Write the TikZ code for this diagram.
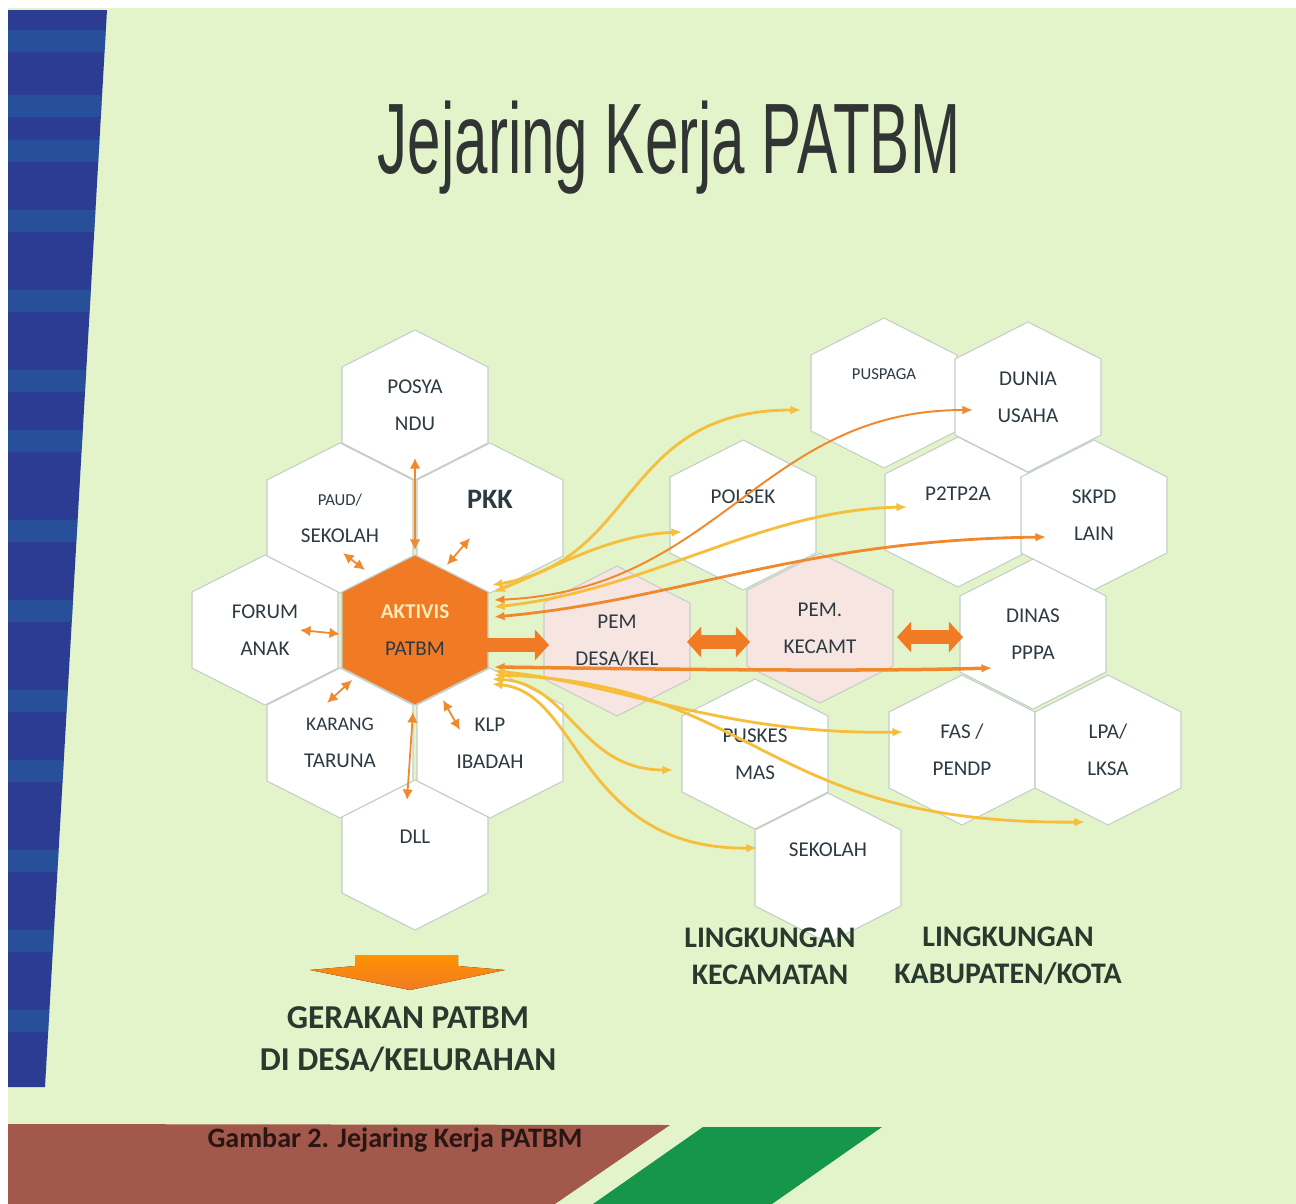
\documentclass[tikz,border=0pt]{standalone}
\usepackage{fontspec}
\setmainfont{Carlito}
\newfontfamily\titlefont[FakeStretch=0.6]{Liberation Sans}
\usetikzlibrary{arrows.meta,calc}
\definecolor{bggreen}{RGB}{227,244,203}
\definecolor{barblue}{RGB}{44,60,146}
\definecolor{barteal}{RGB}{36,108,168}
\definecolor{bandbrown}{RGB}{162,88,74}
\definecolor{bandgreen}{RGB}{22,150,74}
\definecolor{hexline}{RGB}{196,206,200}
\definecolor{hexpink}{RGB}{247,229,226}
\definecolor{aktorange}{RGB}{241,122,36}
\definecolor{aktext}{RGB}{255,236,186}
\definecolor{linkyellow}{RGB}{247,190,60}
\definecolor{linkorange}{RGB}{240,136,44}
\definecolor{labeltext}{RGB}{45,58,66}
\definecolor{bigtext}{RGB}{40,58,46}
\definecolor{titlegray}{RGB}{48,52,50}

\begin{document}
\begin{tikzpicture}[x=0.02cm,y=-0.02cm,
    hexlabel/.style={align=center, text=labeltext, inner sep=0pt,
      font=\fontsize{12}{21}\selectfont},
    spoke/.style={draw=linkorange, line width=1pt,
      {Latex[length=6pt,width=6pt]}-{Latex[length=6pt,width=6pt]}},
    link/.style={draw=linkyellow, line width=1.6pt,
      {Latex[length=6pt,width=5pt]}-{Latex[length=6pt,width=5pt]}},
    fatarrow/.style={draw=aktorange, line width=7.5pt,
      -{Triangle[length=8pt,width=17pt]}},
    bottomtext/.style={align=center, text=bigtext,
      font=\bfseries\fontsize{17}{21}\selectfont}]
  \useasboundingbox (0,0) rectangle (1296,1204);
  \fill[white] (0,0) rectangle (1296,1204);
  \fill[bggreen] (8,8) rectangle (1296,1204);
  \fill[barblue] (8,10) -- (107,10) -- (45,1087) -- (8,1087) -- cycle;
  \begin{scope}
    \clip (8,10) -- (107,10) -- (45,1087) -- (8,1087) -- cycle;
    \foreach \s in {30,95,140,210,290,370,430,520,600,690,760,850,930,1010}
      \fill[barteal, opacity=0.4] (0,\s) rectangle (120,\s+22);
  \end{scope}
  \fill[bandbrown] (8,1124) -- (670,1125) -- (555,1204) -- (8,1204) -- cycle;
  \fill[bandgreen] (703,1127) -- (882,1127) -- (772,1204) -- (593,1204) -- cycle;

  \node[font=\titlefont\fontsize{57}{60}\selectfont, text=titlegray, anchor=base]
    (title) at (669,173) {Jejaring Kerja PATBM};

  \foreach \n/\x/\y/\c/\t in {
      posya/415/405/white/{POSYA\\NDU},
      paud/340/518/white/{\fontsize{9.5}{21}\selectfont PAUD/\\SEKOLAH},
      pkk/490/518/white/{\fontsize{16}{24}\selectfont\bfseries PKK\\\mbox{}},
      forum/265/630/white/{FORUM\\ANAK},
      akt/415/630/aktorange/{\bfseries\color{aktext}AKTIVIS\\PATBM},
      karang/340/743/white/{\fontsize{11}{21}\selectfont KARANG\\TARUNA},
      klp/490/743/white/{KLP\\IBADAH},
      dll/415/855/white/{DLL\\\mbox{}},
      pus/884/393/white/{\fontsize{9.5}{21}\selectfont PUSPAGA\\\mbox{}},
      dunia/1028/397/white/{DUNIA\\USAHA},
      polsek/743/515/white/{POLSEK\\\mbox{}},
      p2tp/958/512/white/{P2TP2A\\\mbox{}},
      skpd/1094/515/white/{SKPD\\LAIN},
      desa/617/641/hexpink/{PEM\\DESA/KEL},
      kec/820/628/hexpink/{PEM.\\KECAMT},
      dinas/1033/634/white/{DINAS\\PPPA},
      puskes/755/754/white/{PUSKES\\MAS},
      fas/962/750/white/{FAS /\\PENDP},
      lpa/1108/750/white/{LPA/\\LKSA},
      sekolah/828/868/white/{SEKOLAH\\\mbox{}}}
  {
    \filldraw[fill=\c, draw=hexline, line width=0.6pt] (\x,\y) +(0,-75) -- +(73,-38)
      -- +(73,38) -- +(0,75) -- +(-73,38) -- +(-73,-38) -- cycle;
    \node[hexlabel] (\n) at (\x,\y) {\t};
  }

  \draw[spoke] ($(akt)+(0,-80)$) -- ($(posya)+(0,53)$);
  \draw[spoke] ($(akt)+(32,-65)$) -- ($(pkk)+(-20,20)$);
  \draw[spoke] ($(akt)+(-50,-60)$) -- ($(paud)+(3,35)$);
  \draw[spoke] ($(akt)+(-75,4)$) -- ($(forum)+(35,0)$);
  \draw[spoke] ($(akt)+(-63,50)$) -- ($(karang)+(-13,-40)$);
  \draw[spoke] ($(akt)+(28,70)$) -- ($(klp)+(-30,-13)$);
  \draw[spoke] ($(akt)+(-2,82)$) -- ($(dll)+(-8,-55)$);

  \draw[link] ($(akt)+(77,-45)$) .. controls +(148,-25) and +(-181,0) .. ($(pus)+(-83,17)$);
  \draw[link] ($(akt)+(79,-38)$) .. controls +(66,-27) and +(-72,3) .. ($(polsek)+(-61,17)$);
  \draw[link, draw=linkorange, line width=1.1pt] ($(akt)+(79,-30)$) .. controls +(226,-10) and +(-213,0) .. ($(dunia)+(-55,13)$);
  \draw[link] ($(akt)+(79,-23)$) .. controls +(156,-17) and +(-147,3) .. ($(p2tp)+(-51,-5)$);
  \draw[link, draw=linkorange] ($(akt)+(79,-13)$) .. controls +(186,-17) and +(-246,3) .. ($(skpd)+(-48,22)$);
  \draw[link, draw=linkorange, line width=2pt] ($(akt)+(79,37)$) .. controls +(156,2) and +(-142,4) .. ($(dinas)+(-41,34)$);
  \draw[link] ($(akt)+(79,41)$) .. controls +(126,12) and +(-183,3) .. ($(fas)+(-59,-18)$);
  \draw[link] ($(akt)+(79,45)$) .. controls +(266,8) and +(-325,3) .. ($(lpa)+(-23,72)$);
  \draw[link] ($(akt)+(77,49)$) .. controls +(78,4) and +(-93,0) .. ($(puskes)+(-82,16)$);
  \draw[link] ($(akt)+(77,54)$) .. controls +(88,8) and +(-177,2) .. ($(sekolah)+(-71,-20)$);

  \draw[fatarrow] ($(akt)+(68,15)$) -- ($(desa)+(-68,4)$);
  \draw[fatarrow, {Triangle[length=8pt,width=17pt]}-{Triangle[length=8pt,width=17pt]}]
    ($(desa)+(70,1)$) -- ($(kec)+(-70,14)$);
  \draw[fatarrow, {Triangle[length=8pt,width=17pt]}-{Triangle[length=8pt,width=17pt]}]
    ($(kec)+(77,9)$) -- ($(dinas)+(-70,3)$);

  \fill[top color=orange!85!yellow, bottom color=aktorange]
    (355,955) -- (458,955) -- (458,966) -- (505,970) -- (410,990) -- (310,970)
    -- (355,966) -- cycle;

  \node[bottomtext, font=\bfseries\fontsize{19}{24}\selectfont] (gerakan) at (408,1039)
    {GERAKAN PATBM\\DI DESA/KELURAHAN};
  \node[bottomtext] (kecamatan) at (770,956) {LINGKUNGAN\\KECAMATAN};
  \node[bottomtext] (kabupaten) at (1008,956) {LINGKUNGAN\\KABUPATEN/KOTA};
  \node[font=\bfseries\fontsize{16}{18}\selectfont, text=black!75!bandbrown]
    (caption) at (395,1140) {Gambar 2. Jejaring Kerja PATBM};
\end{tikzpicture}
\end{document}
